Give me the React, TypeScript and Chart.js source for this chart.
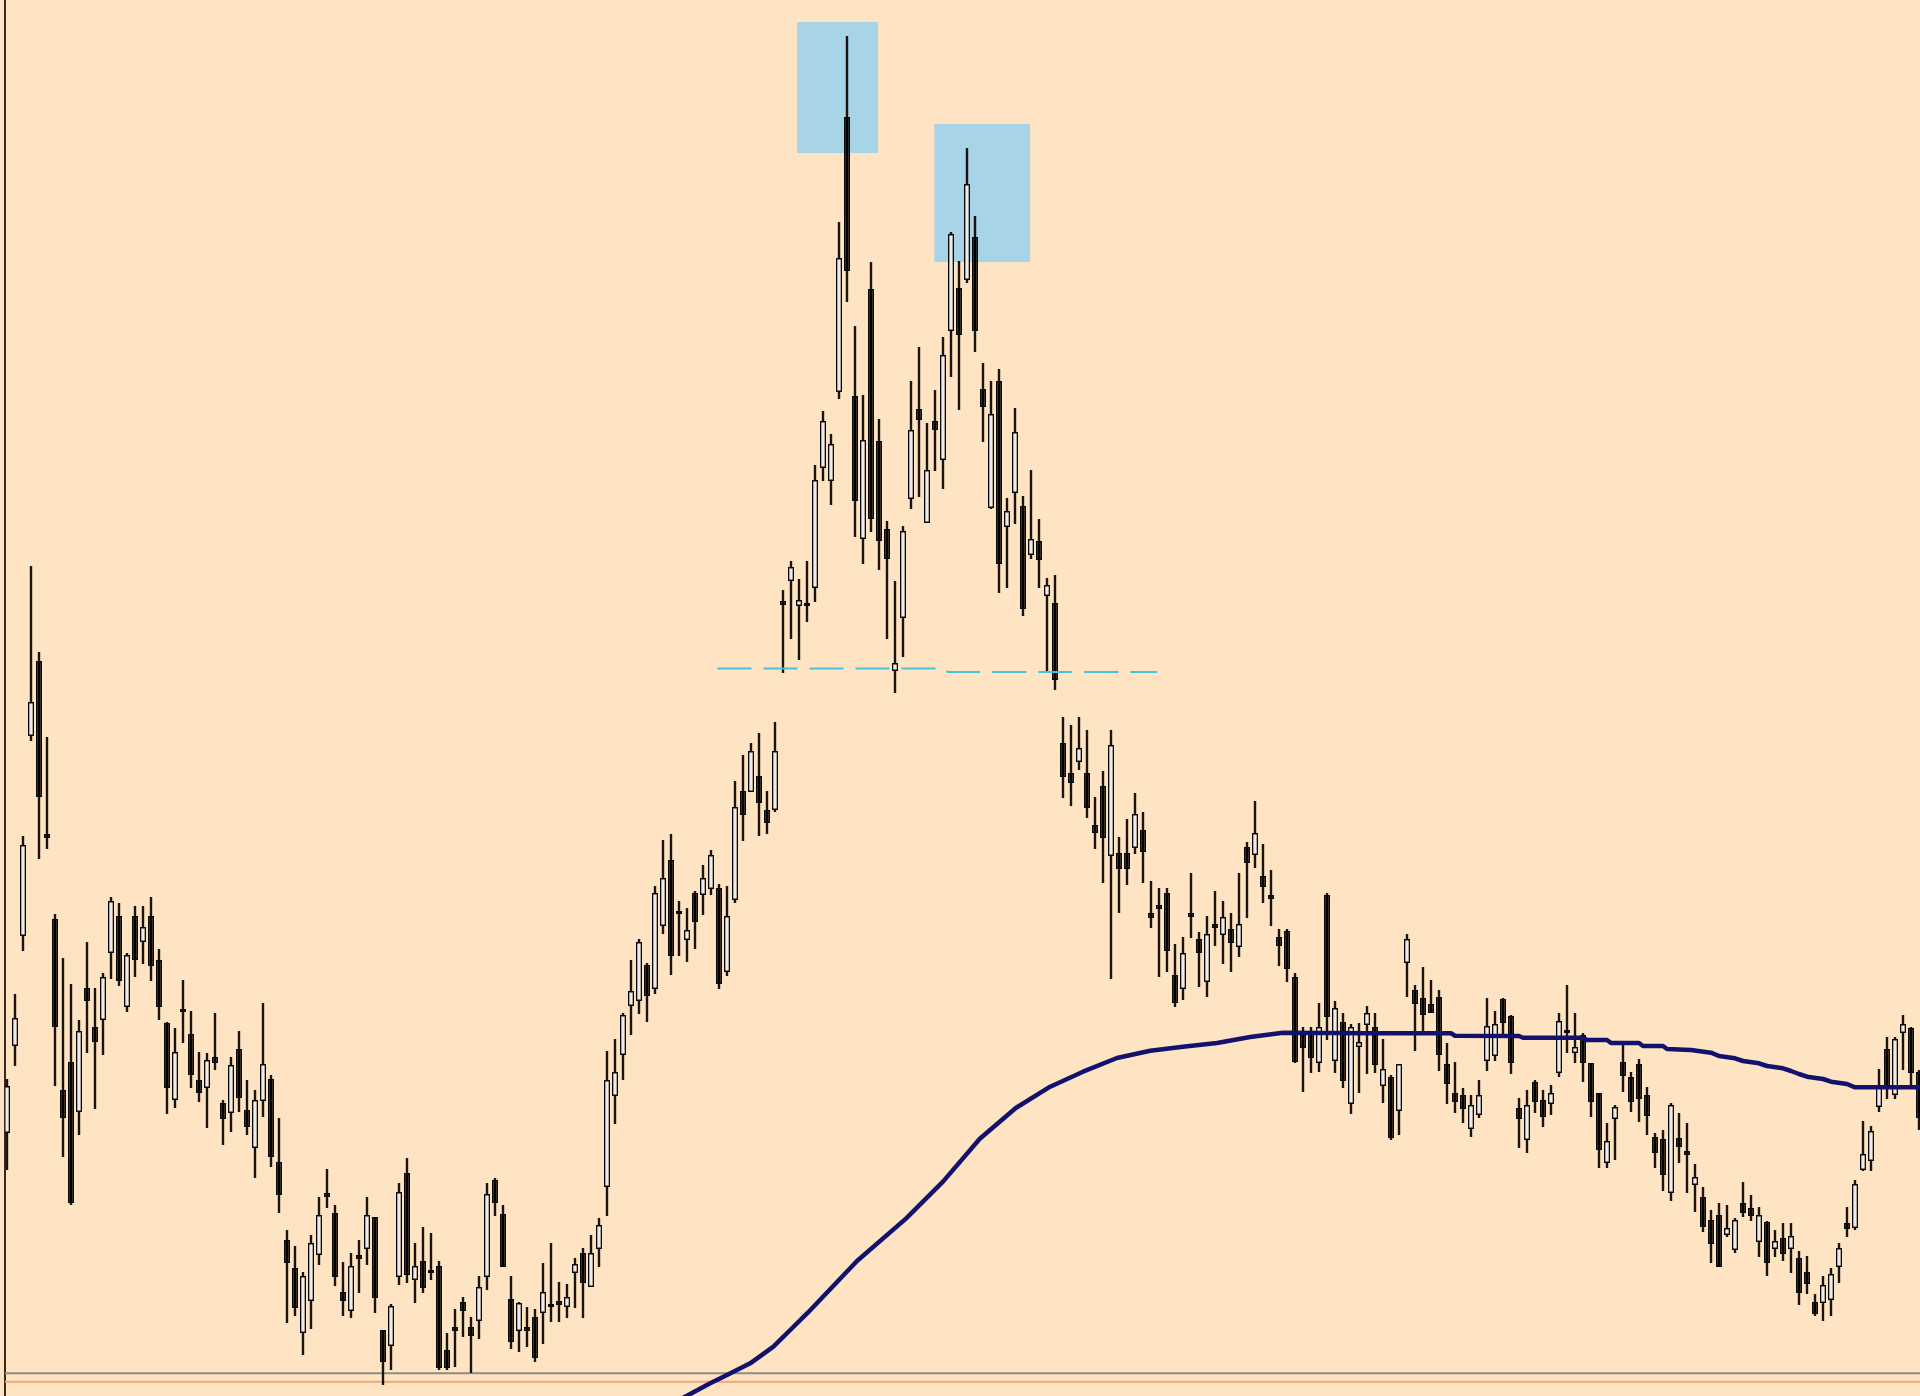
import React, { useEffect, useRef } from "react";
import { Chart, registerables } from "chart.js";

Chart.register(...registerables);

// Candle OHLC values (price units; one candle per bar)
const opens = [
  267, 354, 464, 664, 739, 566, 481, 310, 338, 288,
  412, 373, 380, 447, 484, 393, 484, 458, 484, 440,
  377, 300, 390, 366, 320, 312, 343, 297, 287, 351,
  290, 252, 299, 321, 238, 160, 132, 67, 99, 145,
  207, 187, 108, 89, 145, 151, 183, 70, 54, 123,
  227, 120, 139, 130, 134, 50, 73, 98, 73, 79,
  123, 220, 186, 101, 69, 73, 83, 87, 96, 99,
  93, 127, 147, 113, 151, 213, 304, 345, 394, 399,
  435, 411, 474, 540, 489, 460, 507, 505, 511, 512,
  428, 500, 609, 608, 624, 590, 590, 799, 819, 794,
  797, 812, 932, 919, 1008, 1283, 1004, 861, 1111, 959,
  871, 729, 782, 901, 991, 877, 979, 940, 1069, 1112,
  1120, 1163, 1011, 892, 1019, 873, 907, 894, 845, 859,
  804, 797, 657, 627, 638, 627, 575, 614, 544, 547,
  547, 552, 570, 487, 495, 507, 425, 411, 487, 461,
  418, 476, 465, 471, 453, 553, 545, 524, 505, 463,
  469, 423, 365, 368, 337, 505, 339, 378, 296, 353,
  375, 373, 314, 323, 289, 437, 410, 402, 396, 403,
  336, 307, 305, 271, 285, 339, 344, 401, 384, 292,
  260, 318, 300, 296, 327, 370, 347, 365, 337, 307,
  237, 281, 338, 323, 336, 305, 263, 261, 207, 262,
  249, 215, 203, 180, 185, 165, 150, 197, 192, 158,
  178, 151, 162, 151, 142, 128, 98, 97, 100, 133,
  177, 172, 230, 239, 293, 351, 305, 367, 372, 328,
];

const highs = [
  321, 406, 564, 834, 748, 663, 486, 442, 416, 380,
  458, 412, 427, 503, 497, 447, 494, 494, 503, 451,
  378, 372, 420, 389, 348, 347, 387, 300, 343, 369,
  320, 310, 397, 325, 282, 170, 154, 128, 165, 203,
  231, 195, 138, 147, 160, 203, 183, 70, 96, 217,
  242, 157, 173, 167, 139, 67, 91, 103, 83, 124,
  217, 222, 195, 124, 98, 93, 91, 137, 157, 118,
  116, 142, 152, 165, 182, 349, 361, 387, 440, 461,
  437, 514, 560, 566, 499, 492, 509, 535, 550, 516,
  514, 619, 645, 657, 667, 609, 678, 810, 839, 821,
  839, 935, 989, 966, 1178, 1364, 1074, 1005, 1138, 981,
  879, 819, 874, 1019, 1053, 977, 1010, 1063, 1168, 1139,
  1252, 1184, 1037, 1019, 1031, 902, 992, 904, 930, 881,
  822, 825, 683, 675, 683, 670, 603, 629, 670, 563,
  581, 607, 588, 519, 512, 512, 456, 463, 527, 468,
  484, 509, 499, 487, 527, 558, 599, 556, 530, 471,
  471, 427, 373, 373, 397, 507, 399, 387, 376, 377,
  394, 387, 361, 325, 336, 466, 415, 433, 420, 410,
  357, 338, 312, 305, 320, 402, 389, 402, 385, 302,
  310, 320, 310, 315, 387, 415, 387, 367, 337, 307,
  277, 295, 355, 328, 341, 313, 267, 270, 297, 287,
  277, 236, 213, 190, 197, 195, 182, 218, 205, 193,
  179, 170, 177, 177, 149, 144, 106, 124, 132, 157,
  193, 220, 279, 274, 331, 363, 363, 385, 373, 330,
];

const lows = [
  230, 334, 449, 659, 541, 551, 314, 243, 195, 265,
  347, 291, 345, 421, 414, 388, 423, 436, 419, 380,
  286, 292, 357, 312, 298, 272, 330, 255, 268, 288,
  265, 222, 283, 233, 187, 77, 84, 45, 71, 135,
  192, 114, 84, 82, 107, 135, 87, 15, 30, 115,
  117, 97, 107, 120, 30, 30, 33, 63, 27, 61,
  110, 184, 133, 51, 48, 53, 38, 56, 78, 78,
  82, 92, 82, 113, 133, 184, 276, 320, 365, 386,
  378, 406, 466, 425, 444, 438, 451, 485, 505, 411,
  424, 497, 559, 608, 564, 566, 588, 727, 761, 740,
  778, 798, 919, 895, 1001, 1098, 863, 836, 868, 830,
  761, 707, 743, 891, 903, 877, 929, 911, 1023, 990,
  1117, 1048, 958, 891, 807, 812, 876, 784, 841, 812,
  728, 710, 602, 594, 630, 582, 551, 517, 421, 487,
  515, 546, 517, 472, 423, 428, 393, 400, 462, 413,
  403, 454, 436, 428, 443, 482, 532, 497, 474, 434,
  418, 337, 308, 327, 328, 360, 327, 312, 286, 307,
  326, 327, 297, 260, 265, 403, 349, 368, 387, 329,
  296, 287, 277, 263, 282, 329, 339, 366, 326, 252,
  247, 287, 273, 285, 323, 347, 337, 318, 283, 232,
  232, 240, 308, 288, 278, 265, 232, 209, 199, 237,
  207, 188, 168, 137, 133, 163, 147, 183, 179, 143,
  124, 143, 139, 127, 95, 106, 84, 79, 84, 117,
  163, 170, 229, 229, 288, 301, 301, 330, 313, 270,
];

const closes = [
  314, 382, 555, 698, 603, 562, 373, 282, 197, 369,
  399, 358, 423, 499, 419, 445, 440, 473, 434, 393,
  312, 348, 388, 325, 307, 340, 337, 281, 335, 302,
  273, 300, 336, 243, 205, 137, 92, 124, 157, 185,
  203, 123, 99, 134, 141, 185, 102, 38, 94, 208,
  125, 134, 112, 127, 32, 32, 69, 89, 64, 113,
  206, 197, 133, 58, 97, 69, 42, 108, 93, 95,
  103, 136, 117, 147, 175, 320, 328, 385, 409, 458,
  404, 507, 522, 444, 486, 470, 478, 522, 545, 416,
  484, 593, 585, 649, 597, 577, 649, 795, 833, 800,
  794, 920, 979, 956, 1142, 1129, 899, 960, 881, 859,
  841, 737, 869, 970, 980, 930, 970, 1045, 1166, 1065,
  1216, 1069, 993, 986, 836, 889, 968, 791, 861, 840,
  815, 720, 623, 617, 652, 592, 567, 562, 655, 531,
  531, 586, 548, 482, 491, 449, 397, 447, 483, 447,
  466, 472, 483, 457, 476, 537, 567, 513, 501, 454,
  431, 338, 352, 342, 373, 383, 392, 319, 373, 358,
  387, 335, 331, 262, 336, 461, 396, 385, 387, 345,
  316, 298, 291, 295, 305, 374, 376, 377, 337, 281,
  295, 298, 283, 307, 379, 367, 353, 337, 298, 250,
  259, 293, 324, 298, 301, 284, 247, 225, 295, 253,
  245, 223, 173, 156, 133, 172, 180, 187, 184, 185,
  137, 159, 146, 164, 107, 116, 86, 115, 126, 152,
  171, 216, 246, 269, 313, 313, 361, 376, 327, 282,
];

// Moving average line, sampled at candle positions
const maIndex = [
  84, 87.9, 90, 92.9, 95.8, 97.9, 100.1, 106.25, 112.4, 117, 121.6, 126.1,
  130.4, 134.5, 138.75, 142.9, 147, 151.25, 155.4, 159.5, 170, 180.5, 181,
  189, 189.5, 197, 197.5, 200, 200.5, 204, 204.5, 207, 207.5, 210.5, 213,
  214, 216, 217, 219, 220, 222, 223, 224, 225, 227, 228, 230, 231, 239.2,
];
const maValues = [
  0, 16.7, 25, 36.7, 53.3, 70, 87.3, 139, 181.6, 218.4, 261.2, 292,
  313.3, 328.3, 342, 349.3, 353.3, 357, 363, 367.3, 366.7, 366.7, 364.3,
  364, 362.3, 362.3, 360, 360, 357, 357, 354, 354, 351, 350, 347.3,
  344, 341.7, 339, 336.7, 334, 331.7, 329, 326, 323.3, 321, 318.3, 316, 312.7, 312.7,
];

// Neckline (dashed)
const necklineIndex = [88.8, 117, 117.6, 143.75];
const necklineValues = [731.5, 731.5, 728, 728];

// Highlight boxes around the two tops
const boxStart = [98.75, 115.9];
const boxEnd = [108.9, 127.9];
const boxTop = [1378, 1276];
const boxBottom = [1247, 1138];

// Horizontal price lines at the bottom
const priceLineValues = [26.7, 18.3];
const priceLineColors = ["#8c8c80", "#f2a678"];

const X_MIN = -0.25;
const X_MAX = 239.125;

export default function App() {
  const canvasRef = useRef<HTMLCanvasElement | null>(null);

  useEffect(() => {
    const canvas = canvasRef.current;
    if (!canvas) return;

    const idx = opens.map((_, i) => i);
    const bodies = idx.map((i) => ({ x: i, y: [opens[i], closes[i]] }));
    const wicks = idx.map((i) => ({ x: i, y: [lows[i], highs[i]] }));
    const bodyColors = idx.map((i) => (closes[i] >= opens[i] ? "#ececec" : "#000000"));

    const ma = maIndex.map((x, i) => ({ x, y: maValues[i] }));
    const neck = necklineIndex.map((x, i) => ({ x, y: necklineValues[i] }));

    const boxDatasets = boxStart.map((s, i) => ({
      type: "line" as const,
      data: [
        { x: s, y: boxTop[i] },
        { x: boxEnd[i], y: boxTop[i] },
      ],
      fill: { value: boxBottom[i] },
      backgroundColor: "#a7d4e7",
      borderColor: "rgba(0,0,0,0)",
      borderWidth: 0,
      pointRadius: 0,
      order: 6,
    }));

    const priceLineDatasets = priceLineValues.map((v, i) => ({
      type: "line" as const,
      data: [
        { x: X_MIN - 2, y: v },
        { x: X_MAX + 2, y: v },
      ],
      borderColor: priceLineColors[i],
      borderWidth: 2,
      pointRadius: 0,
      fill: false,
      order: 5,
    }));

    const chart = new Chart(canvas, {
      type: "bar",
      data: {
        datasets: [
          {
            type: "line",
            data: ma,
            borderColor: "#12126e",
            borderWidth: 4.5,
            pointRadius: 0,
            tension: 0,
            fill: false,
            borderJoinStyle: "round",
            borderCapStyle: "round",
            order: 0,
          },
          {
            type: "line",
            data: neck,
            borderColor: "#45c2dc",
            borderWidth: 2.2,
            borderDash: [34, 12],
            pointRadius: 0,
            tension: 0,
            fill: false,
            order: 1,
          },
          {
            type: "bar",
            data: bodies,
            backgroundColor: bodyColors,
            borderColor: "#0a0605",
            borderWidth: 1.5,
            borderSkipped: false,
            barThickness: 6,
            minBarLength: 3,
            grouped: false,
            inflateAmount: 0,
            order: 2,
          },
          {
            type: "bar",
            data: wicks,
            backgroundColor: "#1c130e",
            borderWidth: 0,
            barThickness: 2.4,
            grouped: false,
            inflateAmount: 0,
            order: 3,
          },
          ...priceLineDatasets,
          ...boxDatasets,
        ] as any,
      },
      options: {
        responsive: false,
        animation: false,
        devicePixelRatio: 1,
        events: [],
        layout: { padding: 0 },
        plugins: {
          legend: { display: false },
          tooltip: { enabled: false },
          title: { display: false },
        },
        scales: {
          x: {
            type: "linear",
            min: X_MIN,
            max: X_MAX,
            offset: false,
            display: false,
            grid: { display: false },
          },
          y: {
            type: "linear",
            min: 4,
            max: 1400,
            position: "left",
            display: true,
            grid: { display: false, drawTicks: false },
            ticks: { display: false },
            border: { display: true, color: "#3a2a1e", width: 2 },
            afterFit: (s: any) => {
              s.width = 5;
            },
          },
        },
      } as any,
    });

    return () => chart.destroy();
  }, []);

  return (
    <div
      style={{
        position: "fixed",
        left: 0,
        top: 0,
        width: 1920,
        height: 1396,
        background: "#FFE4C4",
      }}
    >
      <canvas
        ref={canvasRef}
        width={1920}
        height={1396}
        style={{ display: "block", width: 1920, height: 1396 }}
      />
    </div>
  );
}
